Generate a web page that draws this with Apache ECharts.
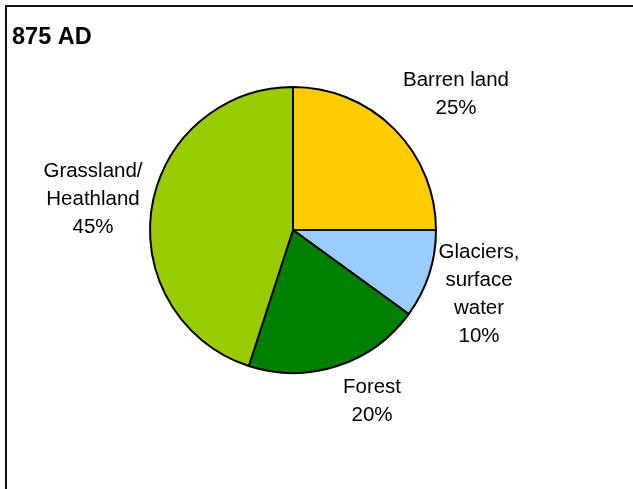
<!DOCTYPE html>
<html>
<head>
<meta charset="utf-8">
<script src="https://cdn.jsdelivr.net/npm/echarts@6/dist/echarts.min.js"></script>
<style>
  html, body { margin: 0; padding: 0; background: #fff; }
  #chart { width: 633px; height: 489px; }
</style>
</head>
<body>
<div id="chart"></div>
<script>
// data
const categories = ['Barren land', 'Glaciers,\nsurface\nwater', 'Forest', 'Grassland/\nHeathland'];
const shares = [25, 10, 20, 45];
const colors = ['#FFCC00', '#99CCFF', '#008000', '#99CC00'];

// label anchor points (Excel places them unevenly)
const labelPos = [[456, 94], [479, 294], [372, 401], [93, 199]];

const chart = echarts.init(document.getElementById('chart'));

const option = {
  backgroundColor: '#fff',
  animation: false,
  title: {
    text: '875 AD',
    left: 7,
    top: 21,
    textStyle: {
      fontFamily: 'Liberation Sans, Arial, sans-serif',
      fontSize: 23.5,
      fontWeight: 'bold',
      color: '#000'
    }
  },
  graphic: [{
    type: 'rect',
    shape: { x: 6, y: 6, width: 700, height: 600 },
    style: { fill: 'none', stroke: '#111', lineWidth: 2 },
    silent: true
  }],
  series: [{
    type: 'pie',
    center: [293, 230],
    radius: 143,
    startAngle: 90,
    clockwise: true,
    data: categories.map((name, i) => ({
      name: name,
      value: shares[i],
      itemStyle: { color: colors[i] }
    })),
    itemStyle: { borderColor: '#000', borderWidth: 2 },
    label: {
      show: true,
      position: 'outside',
      formatter: p => p.name + '\n' + p.value + '%',
      fontFamily: 'Liberation Sans, Arial, sans-serif',
      fontSize: 20.5,
      lineHeight: 28,
      color: '#000',
      align: 'center',
      overflow: 'none',
      width: 200
    },
    labelLine: { show: false },
    labelLayout: p => ({
      x: labelPos[p.dataIndex][0],
      y: labelPos[p.dataIndex][1],
      align: 'center',
      verticalAlign: 'middle'
    }),
    emphasis: { disabled: true }
  }]
};

chart.setOption(option);
</script>
</body>
</html>
